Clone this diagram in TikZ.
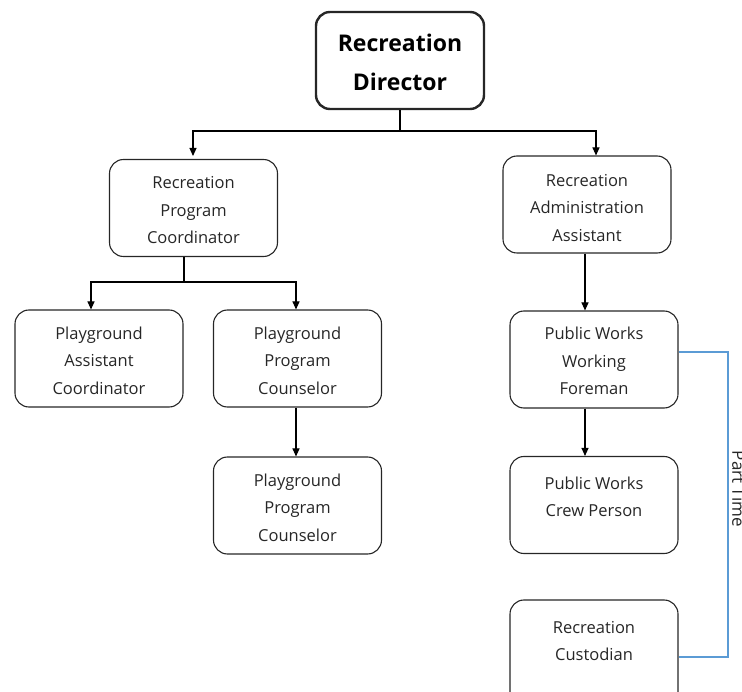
\documentclass[tikz,border=0pt]{standalone}
\usepackage{fontspec}
\setmainfont{Open Sans}
\usetikzlibrary{arrows.meta}
\definecolor{linkblue}{HTML}{5B9BD5}
\tikzset{
  box/.style={draw=black!85, line width=1.1pt, rounded corners=14pt,
    minimum width=168pt, minimum height=97pt, inner sep=0pt},
  topbox/.style={box, line width=2.4pt},
  lbl/.style={align=center, inner sep=0pt, text=black!85,
    font=\fontsize{16.5}{27.5}\selectfont},
  toplbl/.style={align=center, inner sep=0pt, text=black,
    font=\bfseries\fontsize{23}{39}\selectfont},
  conn/.style={line width=1.1pt, black},
  arr/.style={conn, -{Triangle[length=8pt,width=7pt]}},
  parttime/.style={draw=linkblue, line width=1.2pt}
}
\begin{document}
\begin{tikzpicture}[x=1pt, y=-1pt]
  \useasboundingbox (0,0) rectangle (742,692);
  \clip (0,0) rectangle (742,692);
  % boxes
  \node[topbox] (dir) at (400,60.5) {};
  \node[box] (rpc) at (193.5,208) {};
  \node[box] (raa) at (587,204.5) {};
  \node[box] (pac) at (99,358.5) {};
  \node[box] (ppc1) at (297.5,358.5) {};
  \node[box] (ppc2) at (297.5,505.5) {};
  \node[box] (pwf) at (594,359.5) {};
  \node[box] (pwc) at (594,505) {};
  \node[box, minimum height=110pt] (cus) at (594,655) {};
  % box texts
  \node[toplbl] (dir-t) at (400,62.5) {Recreation\\Director};
  \node[lbl] (rpc-t) at (193.5,210.5) {Recreation\\Program\\Coordinator};
  \node[lbl] (raa-t) at (587,208) {Recreation\\Administration\\Assistant};
  \node[lbl] (pac-t) at (99,360.5) {Playground\\Assistant\\Coordinator};
  \node[lbl] (ppc1-t) at (297.5,360.5) {Playground\\Program\\Counselor};
  \node[lbl] (ppc2-t) at (297.5,507.5) {Playground\\Program\\Counselor};
  \node[lbl] (pwf-t) at (594,361) {Public Works\\Working\\Foreman};
  \node[lbl] (pwc-t) at (594,497) {Public Works\\Crew Person};
  \node[lbl] (cus-t) at (594,641) {Recreation\\Custodian};
  % branch points
  \coordinate (j1) at (400,131);
  \coordinate (j2) at (184,282);
  % director to second level
  \draw[conn] (dir.south) -- (j1);
  \draw[arr] (j1) -| (193,156);
  \draw[arr] (j1) -| (raa.north -| 596,0);
  % coordinator to playground staff
  \draw[conn] (rpc.south -| j2) -- (j2);
  \draw[arr] (j2) -| (pac.north -| 91,0);
  \draw[arr] (j2) -| (ppc1.north -| 296,0);
  \draw[arr] (ppc1.south -| 296,0) -- (ppc2.north -| 296,0);
  % administration assistant down the works line
  \draw[arr] (raa.south -| 585,0) -- (pwf.north -| 585,0);
  \draw[arr] (pwf.south -| 585,0) -- (pwc.north -| 585,0);
  % part-time link
  \coordinate (pt) at (728,352);
  \draw[parttime] (pwf.east |- pt) -- (pt) -- (728,657) -- (cus.east |- 0,657);
  \node[rotate=-90, font=\fontsize{17}{18}\selectfont, text=black!85, anchor=south, inner sep=1pt] (ptl) at (731,489) {Part Time};
\end{tikzpicture}
\end{document}
